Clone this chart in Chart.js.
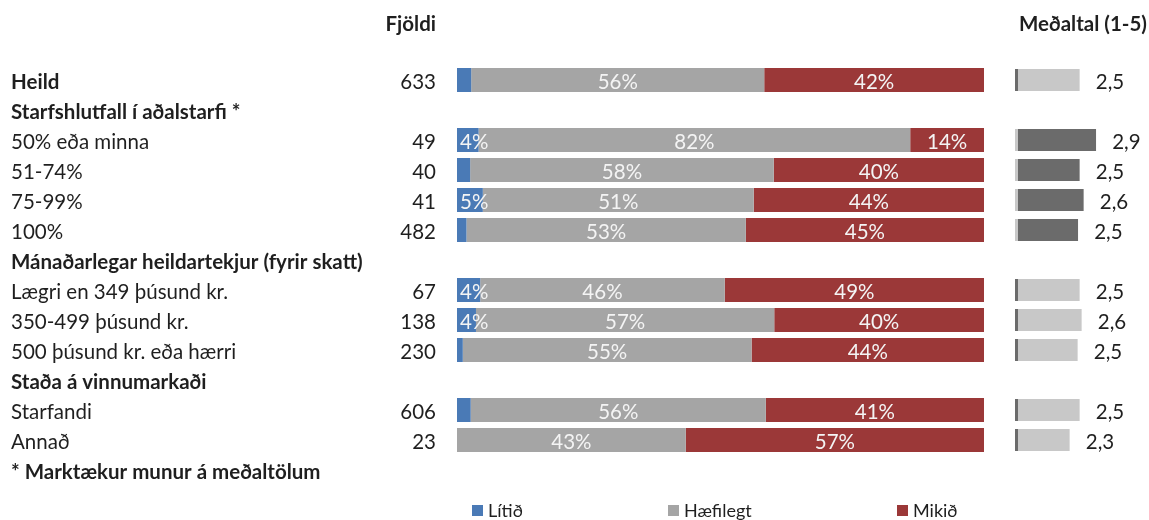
<!DOCTYPE html>
<html><head><meta charset="utf-8">
<script src="https://cdn.jsdelivr.net/npm/chart.js@4"></script>
<style>
html,body{margin:0;padding:0;background:#fff;}
#wrap{position:relative;width:1149px;height:520px;overflow:hidden;font-family:Lato,sans-serif;color:#1f1f1f;}
#cA{position:absolute;left:0;top:0;}
#cB{position:absolute;left:1000px;top:0;}
.leg{position:absolute;top:502px;font-size:18px;line-height:16px;display:flex;align-items:center;white-space:nowrap;}
.leg i{display:inline-block;width:11px;height:11px;margin-right:5px;}
</style></head>
<body><div id="wrap">
<canvas id="cA" width="1000" height="520"></canvas>
<canvas id="cB" width="149" height="520"></canvas>
<div id="legend"></div>
</div>
<script>
// ---------- data ----------
const categories = [
  'Heild',
  'Starfshlutfall í aðalstarfi *',
  '50% eða minna',
  '51-74%',
  '75-99%',
  '100%',
  'Mánaðarlegar heildartekjur (fyrir skatt)',
  'Lægri en 349 þúsund kr.',
  '350-499 þúsund kr.',
  '500 þúsund kr. eða hærri',
  'Staða á vinnumarkaði',
  'Starfandi',
  'Annað',
  '* Marktækur munur á meðaltölum'
];
const boldRows = [0, 1, 6, 10, 13];
const significantRows = [2, 3, 4, 5];
const counts    = [633, null, 49, 40, 41, 482, null, 67, 138, 230, null, 606, 23, null];
const litid     = [2.7, null, 4.1, 2.5, 4.9, 1.8, null, 4.4, 3.6, 1.1, null, 2.6, 0, null];
const haefilegt = [55.6, null, 81.9, 57.6, 51.4, 53.0, null, 46.4, 56.6, 54.8, null, 56.0, 43.4, null];
const mikid     = [41.7, null, 14.0, 39.9, 43.7, 45.2, null, 49.2, 39.8, 44.1, null, 41.4, 56.6, null];
const means     = [2.52, null, 2.93, 2.52, 2.62, 2.48, null, 2.52, 2.57, 2.47, null, 2.52, 2.27, null];
const seriesNames = ['Lítið', 'Hæfilegt', 'Mikið'];
const headerCount = 'Fjöldi';
const headerMean = 'Meðaltal (1-5)';

// ---------- style ----------
const FONT = 'Lato';
const FS = 20.5;
const TXT = '#1f1f1f';
const seriesColors = ['#4a7ab6', '#a5a5a5', '#9b3838'];
const meanLight = '#c8c8c8', meanDark = '#6b6b6b';
const MEAN_MIN = 0.9, MEAN_MAX = 4.0;

const labelPlugin = {
  id: 'pctLabels',
  afterDatasetsDraw(chart) {
    const ctx = chart.ctx;
    ctx.save();
    ctx.font = `${FS}px ${FONT}`;
    ctx.fillStyle = '#f4f4f4';
    ctx.textBaseline = 'middle';
    ctx.textAlign = 'center';
    chart.data.datasets.forEach((ds, di) => {
      const meta = chart.getDatasetMeta(di);
      meta.data.forEach((bar, i) => {
        const v = ds.data[i];
        if (v == null || v < 3.5) return;
        const p = bar.getProps(['x', 'base', 'y'], true);
        const l = Math.min(p.x, p.base), r = Math.max(p.x, p.base);
        const t = Math.round(v) + '%';
        const w = ctx.measureText(t).width;
        const cx = Math.max((l + r) / 2, l + 3 + w / 2);
        ctx.fillText(t, cx, p.y + 2);
      });
    });
    // counts column + header
    const ys = chart.scales.y;
    ctx.fillStyle = TXT;
    ctx.textAlign = 'right';
    counts.forEach((c, i) => {
      if (c == null) return;
      ctx.fillText(String(c), 436, ys.getPixelForValue(i) + 2);
    });
    ctx.font = `bold ${FS}px ${FONT}`;
    ctx.fillText(headerCount, 436, 24);
    ctx.restore();
  }
};

const chartA = new Chart(document.getElementById('cA'), {
  type: 'bar',
  data: {
    labels: categories,
    datasets: [litid, haefilegt, mikid].map((d, k) => ({
      label: seriesNames[k], data: d, backgroundColor: seriesColors[k],
      borderWidth: 0, categoryPercentage: 1, barPercentage: 0.8
    }))
  },
  options: {
    indexAxis: 'y', responsive: false, animation: false,
    layout: { padding: { left: 11, right: 16, top: 65, bottom: 35 } },
    plugins: { legend: { display: false }, tooltip: { enabled: false } },
    scales: {
      x: { stacked: true, min: 0, max: 100, display: false },
      y: {
        stacked: true,
        grid: { display: false }, border: { display: false },
        afterFit(s) { s.width = 446; },
        ticks: {
          autoSkip: false, crossAlign: 'far', color: TXT, labelOffset: 2,
          font: (c) => ({ family: FONT, size: FS, weight: boldRows.includes(c.index) ? 'bold' : 'normal' })
        }
      }
    }
  },
  plugins: [labelPlugin]
});

const meanPlugin = {
  id: 'meanLabels',
  afterDatasetsDraw(chart) {
    const ctx = chart.ctx;
    ctx.save();
    ctx.font = `${FS}px ${FONT}`;
    ctx.fillStyle = TXT;
    ctx.textBaseline = 'middle';
    ctx.textAlign = 'left';
    const meta = chart.getDatasetMeta(0);
    meta.data.forEach((bar, i) => {
      const v = means[i];
      if (v == null) return;
      const p = bar.getProps(['x', 'y'], true);
      ctx.fillText(v.toFixed(1).replace('.', ','), p.x + 16, p.y + 2);
    });
    ctx.font = `bold ${FS}px ${FONT}`;
    ctx.textAlign = 'center';
    ctx.fillText(headerMean, 83, 24);
    ctx.restore();
  }
};

const chartB = new Chart(document.getElementById('cB'), {
  type: 'bar',
  data: {
    labels: categories,
    datasets: [{
      label: headerMean, data: means, base: MEAN_MIN,
      backgroundColor: (c) => significantRows.includes(c.dataIndex) ? meanDark : meanLight,
      borderColor: (c) => significantRows.includes(c.dataIndex) ? meanLight : meanDark,
      borderWidth: { left: 3, right: 0, top: 0, bottom: 0 }, borderSkipped: false,
      categoryPercentage: 1, barPercentage: 0.73
    }]
  },
  options: {
    indexAxis: 'y', responsive: false, animation: false,
    layout: { padding: { left: 15, right: 10, top: 65, bottom: 35 } },
    plugins: { legend: { display: false }, tooltip: { enabled: false } },
    scales: {
      x: { min: MEAN_MIN, max: MEAN_MAX, display: false },
      y: { display: false }
    }
  },
  plugins: [meanPlugin]
});

// legend
const legPos = [472, 668, 897];
const lg = document.getElementById('legend');
seriesNames.forEach((n, k) => {
  const d = document.createElement('div');
  d.className = 'leg';
  d.style.left = legPos[k] + 'px';
  d.innerHTML = `<i style="background:${seriesColors[k]}"></i>${n}`;
  lg.appendChild(d);
});
</script>
</body></html>
